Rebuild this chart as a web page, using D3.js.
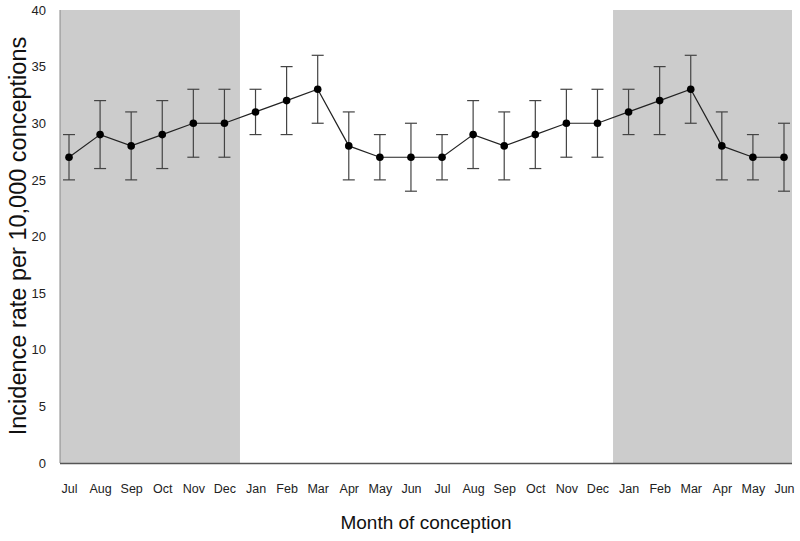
<!DOCTYPE html>
<html><head><meta charset="utf-8">
<script src="https://cdn.jsdelivr.net/npm/d3@7"></script>
<style>body{margin:0;background:#fff}svg{display:block}text{font-family:"Liberation Sans",Arial,sans-serif}</style>
</head><body>
<svg id="c" width="800" height="541"></svg>
<script>
const months = ["Jul","Aug","Sep","Oct","Nov","Dec","Jan","Feb","Mar","Apr","May","Jun","Jul","Aug","Sep","Oct","Nov","Dec","Jan","Feb","Mar","Apr","May","Jun"];
const rate  = [27,29,28,29,30,30,31,32,33,28,27,27,27,29,28,29,30,30,31,32,33,28,27,27];
const lower = [25,26,25,26,27,27,29,29,30,25,25,24,25,26,25,26,27,27,29,29,30,25,25,24];
const upper = [29,32,31,32,33,33,33,35,36,31,29,30,29,32,31,32,33,33,33,35,36,31,29,30];
const yTicks = [0,5,10,15,20,25,30,35,40];
const shadedRanges = [[0,5],[18,23]]; // index ranges of shaded months

const svg = d3.select("#c");
const plotL = 60, plotR = 792, plotT = 10, plotB = 463;
const idx = d3.range(months.length);
const x = d3.scalePoint().domain(idx).range([69, 784]);
const y = d3.scaleLinear().domain([0,40]).range([plotB, plotT]);
const step = x.step();

// shading
shadedRanges.forEach(([a,b]) => {
  const x0 = a === 0 ? plotL : x(a) - step/2;
  const x1 = b === months.length-1 ? plotR : x(b) + step/2;
  svg.append("rect").attr("x", x0).attr("y", y(40)).attr("width", x1-x0).attr("height", y(0)-y(40)).attr("fill", "#cccccc");
});

// axes lines
svg.append("line").attr("x1", plotL).attr("x2", plotL).attr("y1", y(40)).attr("y2", y(0)).attr("stroke", "#888").attr("stroke-width", 1);
svg.append("line").attr("x1", plotL).attr("x2", plotR).attr("y1", y(0)+0.5).attr("y2", y(0)+0.5).attr("stroke", "#555").attr("stroke-width", 1.5);

// y tick labels
const yAxis = d3.axisLeft(y).tickValues(yTicks).tickSize(0).tickPadding(14);
const gy = svg.append("g").attr("transform", `translate(${plotL},0)`).call(yAxis);
gy.select(".domain").remove();
gy.selectAll("text").attr("font-size", 13).attr("fill", "#222").attr("font-family", "Liberation Sans, Arial, sans-serif");

// x tick labels
const xAxis = d3.axisBottom(x).tickFormat(i => months[i]).tickSize(0).tickPadding(21);
const gx = svg.append("g").attr("transform", `translate(0,${plotB})`).call(xAxis);
gx.select(".domain").remove();
gx.selectAll("text").attr("font-size", 12.5).attr("fill", "#222").attr("font-family", "Liberation Sans, Arial, sans-serif");

// error bars
const eb = svg.append("g").attr("stroke", "#444").attr("stroke-width", 1.2);
idx.forEach(i => {
  eb.append("line").attr("x1", x(i)).attr("x2", x(i)).attr("y1", y(lower[i])).attr("y2", y(upper[i]));
  eb.append("line").attr("x1", x(i)-6).attr("x2", x(i)+6).attr("y1", y(lower[i])).attr("y2", y(lower[i]));
  eb.append("line").attr("x1", x(i)-6).attr("x2", x(i)+6).attr("y1", y(upper[i])).attr("y2", y(upper[i]));
});

// line
svg.append("path").datum(idx)
  .attr("d", d3.line().x(i => x(i)).y(i => y(rate[i])))
  .attr("fill", "none").attr("stroke", "#222").attr("stroke-width", 1.2);

// points
svg.append("g").selectAll("circle").data(idx).join("circle")
  .attr("cx", i => x(i)).attr("cy", i => y(rate[i])).attr("r", 3.8).attr("fill", "#000");

// titles
svg.append("text").attr("x", 426).attr("y", 529).attr("text-anchor", "middle")
  .attr("font-size", 19).attr("fill", "#111").text("Month of conception");
svg.append("text").attr("transform", "translate(26,236) rotate(-90)").attr("text-anchor", "middle")
  .attr("font-size", 23.5).attr("fill", "#111").text("Incidence rate per 10,000 conceptions");
</script>
</body></html>
